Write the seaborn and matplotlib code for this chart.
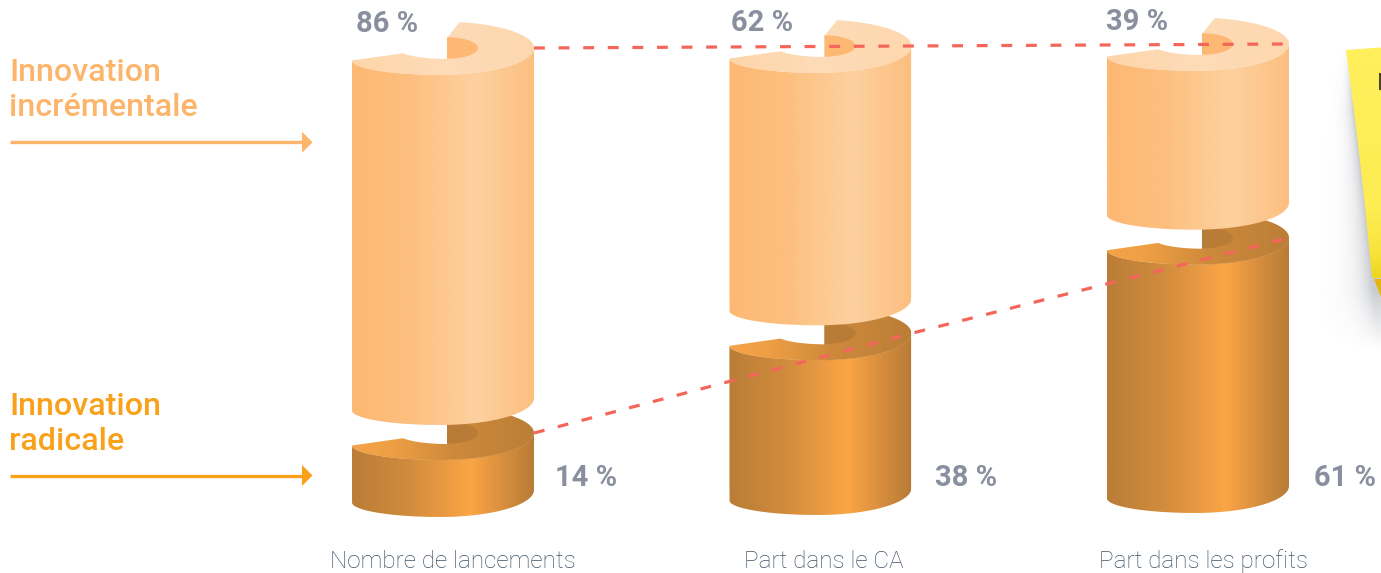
import numpy as np
import pandas as pd
import matplotlib
matplotlib.use("Agg")
import matplotlib.pyplot as plt
import seaborn as sns
from matplotlib.path import Path
from matplotlib.patches import PathPatch, Polygon, Rectangle
from matplotlib.colors import LinearSegmentedColormap

# Shares of each innovation type, in percent
categories = ["Nombre de lancements", "Part dans le CA", "Part dans les profits"]
incremental = [86, 62, 39]
radical = [14, 38, 61]
series_names = ["Innovation\nincrémentale", "Innovation\nradicale"]

W, H = 1381, 573
PX_PER_PCT = 4.07          # vertical pixels for one percentage point
GAP = 35 / PX_PER_PCT      # empty space between the two drums
RADIUS_X = 91.0
centers = np.array([443.0, 820.5, 1198.0])
base_px = np.array([490.0, 488.0, 486.0])

sns.set_theme(style="white")
plt.rcParams["font.family"] = ["Roboto", "DejaVu Sans"]

fig = plt.figure(figsize=(W / 100, H / 100), dpi=100, facecolor="white")
ax = fig.add_axes([0, 0, 1, 1])


def to_val(y_px, ref=490.0):
    """Vertical pixel position to chart units."""
    return (ref - y_px) / PX_PER_PCT


bases = to_val(base_px)
rad = np.array(radical, dtype=float)
inc = np.array(incremental, dtype=float)
inc_bottom = bases + rad + GAP
inc_top = inc_bottom + inc
rad_top = bases + rad

frame = pd.DataFrame({"x": centers, "incremental": inc, "radical": rad})
sns.barplot(data=frame, x="x", y="radical", native_scale=True, width=182 / 377.5,
            color="#D08C3D", saturation=1, bottom=bases, errorbar=None, ax=ax)
n_rad = len(ax.patches)
sns.barplot(data=frame, x="x", y="incremental", native_scale=True, width=182 / 377.5,
            color="#FDC48A", saturation=1, bottom=inc_bottom, errorbar=None, ax=ax)
bars = list(ax.patches)

ax.set_xlim(0, W)
ax.set_ylim(to_val(H), to_val(0))
ax.set_autoscale_on(False)
ax.axis("off")


def arc(cx, cy, rx, ry, t0, t1, n=60):
    t = np.radians(np.linspace(t0, t1, n))
    return np.column_stack([cx + rx * np.cos(t), cy + ry * np.sin(t)])


def front_profile():
    # right edge -> lowest point -> left corner of a rim (offsets in px, y down)
    return np.vstack([arc(-3, 0, 94, 27, 0, 90), arc(-3, 12.5, 88, 14.5, 90, 180)])


def to_data(points, cx, vy):
    return np.column_stack([cx + points[:, 0], vy - points[:, 1] / PX_PER_PCT])


def body_path(cx, v_bottom, v_top):
    top = to_data(front_profile(), cx, v_top)
    bottom = to_data(front_profile(), cx, v_bottom)[::-1]
    return Path(np.vstack([top, bottom, top[:1]]))


def face_path(cx, vy):
    # left corner, cut-out curve, notch, outer rim, then back along the front
    pts = np.vstack([
        [[-91, 12.5]],
        arc(4, 0, 50, 11, 151.6, 90),
        [[4, -10]],
        arc(-3, 0, 94, 26.5, -78, 0),
        front_profile(),
    ])
    return Path(to_data(pts, cx, vy))


def wedge_path(cx, vy):
    return Path(to_data(arc(4, 0, 31, 10.7, -90, 90), cx, vy))


def gradient(stops, path, cx, v0, v1, z):
    cmap = LinearSegmentedColormap.from_list("g", stops)
    ramp = np.linspace(0, 1, 256)[None, :]
    im = ax.imshow(ramp, cmap=cmap, vmin=0, vmax=1, aspect="auto", interpolation="bilinear",
                   extent=[cx - RADIUS_X, cx + RADIUS_X, v0, v1], zorder=z)
    im.set_clip_path(PathPatch(path, transform=ax.transData))


light_body = [(0, "#FDB973"), (0.3, "#FDBE7E"), (0.68, "#FDD19F"), (1, "#FCBF80")]
light_face = [(0, "#FDD5AA"), (0.5, "#FEDCB8"), (1, "#FDD7AE")]
dark_body = [(0, "#BA7D37"), (0.3, "#D08B3D"), (0.65, "#FBA546"), (1, "#B87B36")]
dark_face = [(0, "#F4A348"), (0.2, "#F0A044"), (0.55, "#CE8A3C"), (1, "#BB7E37")]

for i, cx in enumerate(centers):
    # radical drum below, incremental drum in front of it
    for (v0, v1, body, face, inner, z) in [
        (bases[i], rad_top[i], dark_body, dark_face, "#B97C36", 3),
        (inc_bottom[i], inc_top[i], light_body, light_face, "#FDB873", 6),
    ]:
        clip = body_path(cx, v0, v1)
        pad = 30 / PX_PER_PCT
        gradient(body, clip, cx, v0 - pad, v1 + pad, z)
        gradient(face, face_path(cx, v1), cx, v1 - pad, v1 + pad, z + 0.5)
        ax.add_patch(PathPatch(wedge_path(cx, v1), facecolor=inner, edgecolor="none", zorder=z + 1))

for k, b in enumerate(bars):
    i = k % len(centers)
    if k < n_rad:
        b.set_clip_path(PathPatch(body_path(centers[i], bases[i], rad_top[i]), transform=ax.transData))
    else:
        b.set_clip_path(PathPatch(body_path(centers[i], inc_bottom[i], inc_top[i]), transform=ax.transData))

# dashed links across the right rim of the drums
for tops in (inc_top, rad_top):
    ax.plot(centers + RADIUS_X, tops, color="#F4665A", lw=2.3, dashes=(3.4, 4.3), zorder=10)

# value labels
grey = "#8A8F9F"
for x, v, y in zip([356.5, 731, 1106.5], incremental, [31.5, 31, 30.5]):
    ax.text(x, to_val(y), f"{v} %", color=grey, fontsize=21, fontweight="bold", va="baseline", ha="left", zorder=12)
for x, v in zip([555.5, 935, 1314.5], radical):
    ax.text(x, to_val(486.5), f"{v} %", color=grey, fontsize=21, fontweight="bold", va="baseline", ha="left", zorder=12)
for x, label in zip([452.5, 823.5, 1204], categories):
    ax.text(x, to_val(568), label, color="#3E5265", fontsize=17.5, fontweight="light", ha="center", va="baseline", zorder=12)

# series captions and their arrows
for name, color, y_text, y_arrow in [
    (series_names[0], "#FDB56B", 116, 142.3),
    (series_names[1], "#F9A11B", 450, 475.5),
]:
    ax.text(9, to_val(y_text), name, color=color, fontsize=23.2, fontweight="medium",
            ha="left", va="baseline", linespacing=1.24, zorder=12)
    ax.plot([10, 303], [to_val(y_arrow)] * 2, color=color, lw=2.4, solid_capstyle="butt", zorder=12)
    ax.add_patch(Polygon([[302, to_val(y_arrow - 10.5)], [312.5, to_val(y_arrow)], [302, to_val(y_arrow + 10.5)]],
                         closed=True, facecolor=color, edgecolor="none", zorder=12))


# sticky note cut by the right border, with its soft shadow
def note_edge(y):
    return 1346 + (y - 50) * 26.0 / 227.0 + 1.2 * np.sin((y - 50) / 228 * np.pi)


ys = np.arange(40, 360, 1.0)
xs = np.arange(1320, W + 1, 1.0)
gx, gy = np.meshgrid(xs, ys)
edge = note_edge(gy)
spread = 3 + (gy - 50) / 230 * 10
fade = np.clip((gy - 48) / 60, 0, 1) * np.clip((350 - gy) / 60, 0, 1)
alpha = 0.36 * np.exp(-np.clip(edge - gx, 0, None) / spread) * fade
rgba = np.zeros(gx.shape + (4,))
rgba[..., :3] = np.array([0.42, 0.44, 0.50])
rgba[..., 3] = alpha
ax.imshow(rgba, extent=[xs[0], xs[-1], to_val(ys[-1]), to_val(ys[0])], origin="upper", aspect="auto", zorder=1)

note_y = np.linspace(50, 278, 40)
note_pts = np.vstack([np.column_stack([note_edge(note_y), to_val(note_y)]),
                      [[W, to_val(278)], [W, to_val(47.5)]]])
note_path = Path(np.vstack([note_pts, note_pts[:1]]))
cmap_note = LinearSegmentedColormap.from_list(
    "note", [(0, "#FFF05C"), (0.72, "#FDEC52"), (0.9, "#F7E338"), (1, "#EDD620")])
im = ax.imshow(np.linspace(0, 1, 128)[:, None], cmap=cmap_note, aspect="auto", origin="upper",
               extent=[1340, W, to_val(278), to_val(47)], zorder=2)
im.set_clip_path(PathPatch(note_path, transform=ax.transData))
ax.add_patch(Polygon([[1374.5, to_val(279)], [W, to_val(279)], [W, to_val(297)]], closed=True,
                     facecolor="#E3B70B", edgecolor="none", zorder=2))
ax.add_patch(Rectangle((1379.5, to_val(90)), 1.5, 17 / PX_PER_PCT, facecolor="#4A4428", edgecolor="none", zorder=3))

ax.set_xlim(0, W)
ax.set_ylim(to_val(H), to_val(0))
fig.savefig("out.png", dpi=100, facecolor="white")
